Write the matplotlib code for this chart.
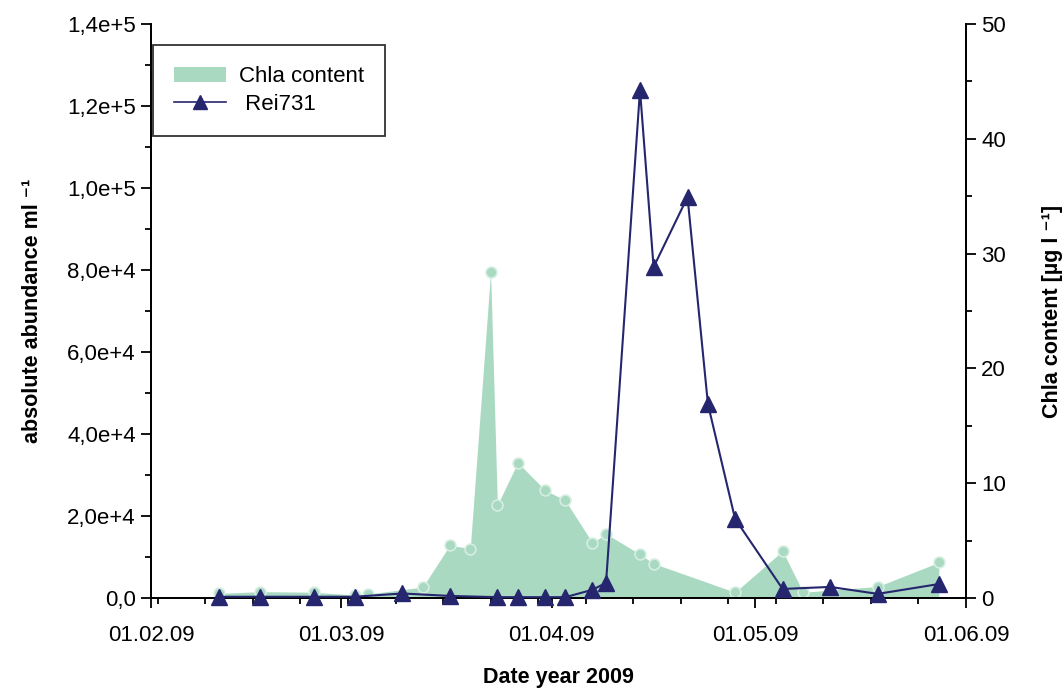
import matplotlib
matplotlib.use("Agg")
import matplotlib.pyplot as plt
import matplotlib.dates as mdates
import matplotlib.ticker as mticker
from matplotlib.patches import Patch
from matplotlib.lines import Line2D
import datetime as dt

plt.rcParams['font.family'] = ['Liberation Sans', 'DejaVu Sans']

# Chlorophyll a concentration (µg/l)
chla_dates = ["2009-02-11", "2009-02-17", "2009-02-25", "2009-03-03", "2009-03-05",
              "2009-03-13", "2009-03-17", "2009-03-20", "2009-03-23", "2009-03-24",
              "2009-03-27", "2009-03-31", "2009-04-03", "2009-04-07", "2009-04-09",
              "2009-04-14", "2009-04-16", "2009-04-28", "2009-05-05", "2009-05-08",
              "2009-05-19", "2009-05-28"]
chla_values = [0.4, 0.55, 0.5, 0.25, 0.35,
               0.95, 4.6, 4.3, 28.4, 8.1,
               11.8, 9.4, 8.5, 4.8, 5.6,
               3.8, 3.0, 0.5, 4.1, 0.5,
               1.0, 3.1]

# Rei731 absolute abundance (cells/ml)
rei_dates = ["2009-02-11", "2009-02-17", "2009-02-25", "2009-03-03", "2009-03-10",
             "2009-03-17", "2009-03-24", "2009-03-27", "2009-03-31", "2009-04-03",
             "2009-04-07", "2009-04-09", "2009-04-14", "2009-04-16", "2009-04-21",
             "2009-04-24", "2009-04-28", "2009-05-05", "2009-05-12", "2009-05-19",
             "2009-05-28"]
rei_values = [300, 300, 300, 300, 1100,
              500, 200, 200, 200, 200,
              2000, 3700, 123900, 80700, 97800,
              47300, 19300, 2200, 2700, 1000,
              3400]

left_ticks = [0, 20000, 40000, 60000, 80000, 100000, 120000, 140000]
left_ticklabels = ["0,0", "2,0e+4", "4,0e+4", "6,0e+4", "8,0e+4", "1,0e+5", "1,2e+5", "1,4e+5"]
right_ticks = [0, 10, 20, 30, 40, 50]

fill_color = "#a9d9c1"
line_color = "#25266e"

def to_dates(lst):
    return [dt.datetime.strptime(s, "%Y-%m-%d") for s in lst]

cd = to_dates(chla_dates)
rd = to_dates(rei_dates)

fig = plt.figure(figsize=(10.62, 6.89), dpi=100)
ax1 = fig.add_axes([0.1422, 0.1321, 0.9096 - 0.1422, 0.9652 - 0.1321])
ax2 = ax1.twinx()
ax1.set_zorder(2)
ax2.set_zorder(1)
ax1.patch.set_visible(False)

# Chla area with sample markers
ax2.fill_between(cd, chla_values, 0, color=fill_color, linewidth=0, zorder=1)
ax2.plot(cd, chla_values, linestyle="none", marker="o", markersize=7.8,
         markerfacecolor=fill_color, markeredgecolor="#d6eee2", markeredgewidth=1.2, zorder=2)
ax2.set_ylim(0, 50)
ax2.set_yticks(right_ticks)
ax2.yaxis.set_minor_locator(mticker.MultipleLocator(5))

# Rei731 line
ax1.plot(rd, rei_values, color=line_color, linewidth=1.5, marker="^",
         markersize=11, markerfacecolor=line_color, markeredgecolor=line_color,
         clip_on=False, zorder=3)
ax1.set_ylim(0, 140000)
ax1.set_yticks(left_ticks)
ax1.set_yticklabels(left_ticklabels)
ax1.yaxis.set_minor_locator(mticker.MultipleLocator(10000))

ax1.set_xlim(dt.datetime(2009, 2, 1), dt.datetime(2009, 6, 1))
ax1.xaxis.set_major_locator(mdates.MonthLocator())
ax1.xaxis.set_major_formatter(mdates.DateFormatter("%d.%m.%y"))
ax1.xaxis.set_minor_locator(mdates.WeekdayLocator(byweekday=mdates.MO))

for ax in (ax1, ax2):
    ax.spines["top"].set_visible(False)
    for s in ax.spines.values():
        s.set_linewidth(1.3)
    ax.tick_params(which="major", length=7.5, width=1.3, labelsize=16, direction="out")
    ax.tick_params(which="minor", length=4, width=1.3, direction="out")
ax1.tick_params(axis="x", pad=12)

ax1.set_xlabel("Date year 2009", fontsize=15.5, fontweight="bold", labelpad=15)
ax1.set_ylabel("absolute abundance ml \u207b\u00b9", fontsize=15.5,
               fontweight="bold", labelpad=17)
ax2.set_ylabel("Chla content [µg l \u207b\u00b9]", fontsize=15.5,
               fontweight="bold", labelpad=26)

handles = [Patch(facecolor=fill_color, edgecolor="none"),
           Line2D([], [], color=line_color, linewidth=1.2, marker="^", markersize=10,
                  markerfacecolor=line_color)]
leg = ax1.legend(handles, ["Chla content", " Rei731"], loc="upper left",
                 bbox_to_anchor=(0.0025, 0.963), borderaxespad=0, fontsize=16,
                 frameon=True, fancybox=False, edgecolor="black",
                 handlelength=2.35, handletextpad=0.55, borderpad=0.95,
                 labelspacing=0.3)
leg.get_frame().set_linewidth(1.3)

fig.savefig("out.png", dpi=100)
